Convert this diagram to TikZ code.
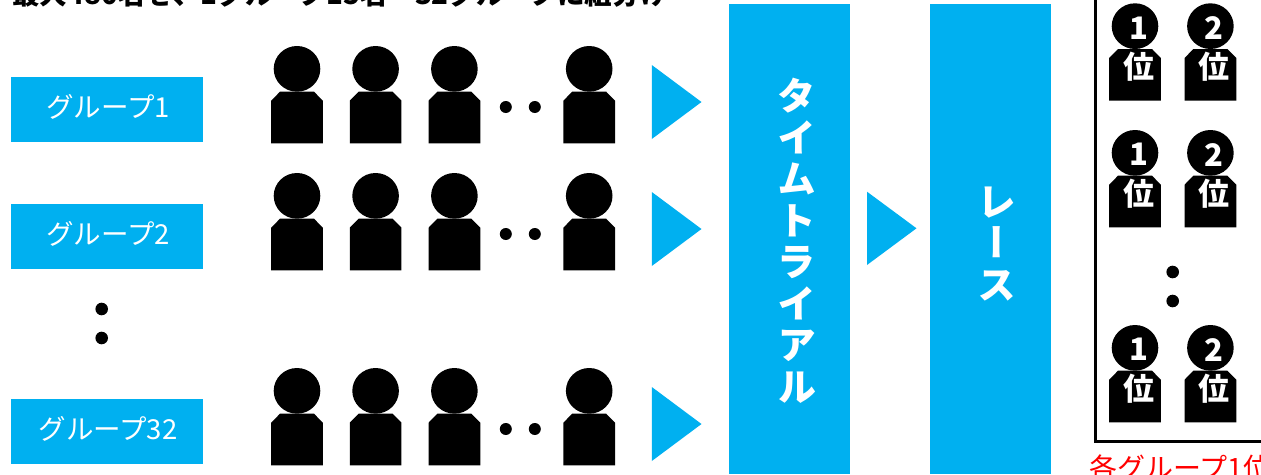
\documentclass[tikz,border=0pt]{standalone}
\usepackage{fontspec}
\setmainfont{Noto Sans CJK JP}
\newfontfamily\jpvert[RawFeature=+vert]{Noto Sans CJK JP}
\definecolor{skyblue}{HTML}{00B0F0}
\tikzset{
  x=1pt,y=-1pt,
  bluebox/.style={fill=skyblue,draw=none,inner sep=0pt,minimum width=192pt,minimum height=65pt},
  grouplabel/.style={text=white,inner sep=0pt,font=\fontsize{27.5}{27.5}\selectfont},
  tallbox/.style={fill=skyblue,draw=none,inner sep=0pt,minimum width=121pt,minimum height=470pt,anchor=north west},
  vtext/.style={text=white,inner sep=0pt,align=center,font=\jpvert\bfseries\fontsize{39}{41.5}\selectfont},
  dotmark/.style={circle,fill=black,draw=none,inner sep=0pt,minimum size=12.6pt},
  ranklabel/.style={text=white,inner sep=0pt,font=\bfseries\fontsize{31}{31}\selectfont},
  pics/person/.style={code={
    \fill[black] (0,22.85) circle [x radius=23.3pt,y radius=22.85pt];
    \fill[black] (-17,45.7) -- (17,45.7) -- (25.85,54.7) -- (25.85,97.3) -- (-25.85,97.3) -- (-25.85,54.7) -- cycle;
  }},
  pics/rankperson/.style={code={
    \pic {person};
    \node[ranklabel] (num) at (4,24.7) {#1};
    \node[ranklabel] (wei) at (4,63.7) {位};
  }},
  pics/personrow/.style={code={
    \pic at (297,0) {person};
    \pic at (375.6,0) {person};
    \pic at (454.4,0) {person};
    \pic at (589.2,0) {person};
    \node[dotmark,minimum size=12pt] (d1) at (505.8,61) {};
    \node[dotmark,minimum size=12pt] (d2) at (534.8,61) {};
    \fill[skyblue] (651.8,19) -- (701.5,56) -- (651.8,93) -- cycle;
  }},
}
\begin{document}
\begin{tikzpicture}
\clip (0,0) rectangle (1261,474);
\fill[white] (0,0) rectangle (1261,474);
% title (cut by the top edge)
\node[anchor=base west,inner sep=0pt,font=\bfseries\fontsize{27.6}{27.6}\selectfont] (title) at (12,4) {最大480名を、1グループ15名・32グループに組分け};
% groups
\node[bluebox] (g1) at (107,109.5) {};
\node[bluebox] (g2) at (107,236.5) {};
\node[bluebox] (g32) at (107,431.5) {};
\node[grouplabel] (g1t) at (108,107) {グループ1};
\node[grouplabel] (g2t) at (108,234) {グループ2};
\node[grouplabel] (g32t) at (108,429) {グループ32};
\node[dotmark] (gd1) at (101.7,309) {};
\node[dotmark] (gd2) at (101.7,338) {};
% person rows
\pic (r1) at (0,46) {personrow};
\pic (r2) at (0,173) {personrow};
\pic (r3) at (0,368) {personrow};
% stages
\node[tallbox] (tt) at (729,4) {};
\node[tallbox] (race) at (930,4) {};
\node[vtext] (tttext) at (796.7,241) {タ\\イ\\ム\\ト\\ラ\\イ\\ア\\ル};
\node[vtext] (racetext) at (997,244) {レ\\ー\\ス};
\fill[skyblue] (867,191.7) -- (916.5,228.3) -- (867,265) -- cycle;
% result frame
\draw[black,line width=3pt] (1095,-5) -- (1095,441) -- (1270,441);
\pic (a1) at (1135,3.3) {rankperson=1};
\pic (a2) at (1210.4,3.3) {rankperson=2};
\pic (b1) at (1135,130) {rankperson=1};
\pic (b2) at (1210.4,130) {rankperson=2};
\pic (c1) at (1135,325) {rankperson=1};
\pic (c2) at (1210.4,325) {rankperson=2};
\node[dotmark] (rd1) at (1172.7,272) {};
\node[dotmark] (rd2) at (1172.7,301) {};
\node[anchor=base west,inner sep=0pt,text=red,font=\fontsize{28}{28}\selectfont] (cap) at (1089,478) {各グループ1位};
\end{tikzpicture}
\end{document}
